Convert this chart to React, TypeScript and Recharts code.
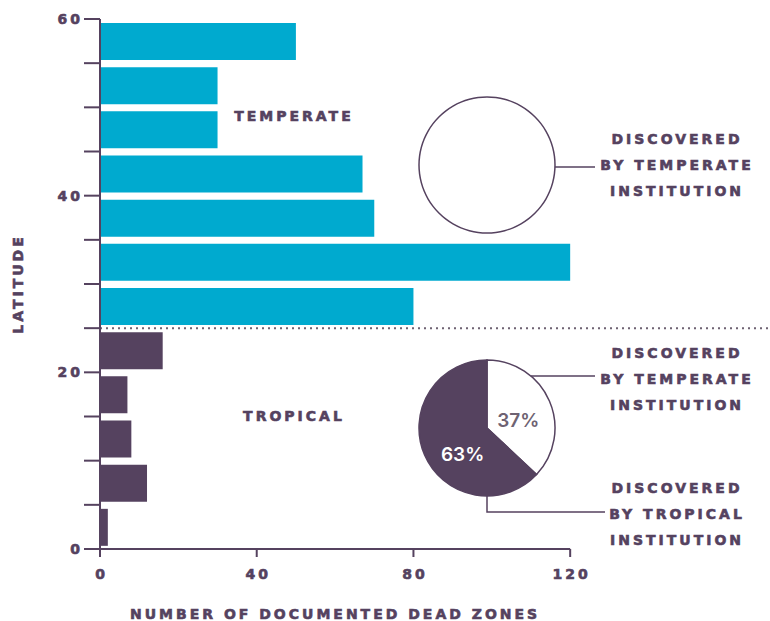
import {
  BarChart,
  Bar,
  XAxis,
  YAxis,
  Cell,
  ReferenceLine,
  ReferenceDot,
  PieChart,
  Pie,
} from 'recharts'

// latitude bins (mid-points of 5° bands) and number of dead zones per band
const latitudeBins = [2.5, 7.5, 12.5, 17.5, 22.5, 27.5, 32.5, 37.5, 42.5, 47.5, 52.5, 57.5]
const deadZones = [2, 12, 8, 7, 16, 80, 120, 70, 67, 30, 30, 50]
const latitudeTicks = [0, 5, 10, 15, 20, 25, 30, 35, 40, 45, 50, 55, 60]
const latitudeLabels = [0, 20, 40, 60]
const countTicks = [0, 40, 80, 120]
const tropicBoundary = 25

const temperateShare = [{ name: 'Discovered by temperate institution', value: 100 }]
const tropicalShare = [
  { name: 'Discovered by temperate institution', value: 37 },
  { name: 'Discovered by tropical institution', value: 63 },
]
const calloutLines = ['DISCOVERED', 'BY TEMPERATE', 'INSTITUTION']
const calloutLinesTropical = ['DISCOVERED', 'BY TROPICAL', 'INSTITUTION']

const CYAN = '#00AACF'
const PLUM = '#55425F'
const GRAY = '#6E6272'
const HEAVY = '"DejaVu Sans", sans-serif'

const rows = latitudeBins.map((lat, i) => ({ lat, count: deadZones[i] }))

const capsStyle = {
  fontFamily: HEAVY,
  fontWeight: 700,
  fontSize: 14,
  letterSpacing: 3,
  fill: PLUM,
  stroke: PLUM,
  strokeWidth: 0.6,
}

const pctStyle = { fontFamily: 'Inter, sans-serif', fontWeight: 600, fontSize: 19 }

function YTick({ x, y, payload }: any) {
  if (!latitudeLabels.includes(payload.value)) return null
  return (
    <text x={x + 3} y={y} textAnchor="end" dominantBaseline="central" style={capsStyle}>
      {payload.value}
    </text>
  )
}

function XTick({ x, y, payload }: any) {
  return (
    <text x={x + 1.5} y={y} textAnchor="middle" dominantBaseline="hanging" style={capsStyle}>
      {payload.value}
    </text>
  )
}

function TextMark(text: string, dy = 0) {
  return ({ cx, cy }: any) => (
    <text x={cx} y={cy + dy} textAnchor="middle" dominantBaseline="central" style={capsStyle}>
      {text}
    </text>
  )
}

function Callout({ x, y, lines }: { x: number; y: number; lines: string[] }) {
  return (
    <text textAnchor="middle" dominantBaseline="central" style={capsStyle}>
      {lines.map((l, i) => (
        <tspan key={i} x={x} y={y + i * 26}>
          {l}
        </tspan>
      ))}
    </text>
  )
}

const PIE_R = 68
const PIE_CX = 87

function pctLabel(color: string, ratio: number, dx: number, dy: number) {
  return ({ cx, cy, midAngle, outerRadius, percent }: any) => {
    const rad = (Math.PI / 180) * midAngle
    const r = outerRadius * ratio
    return (
      <text
        x={cx + r * Math.cos(rad) + dx}
        y={cy - r * Math.sin(rad) + dy}
        textAnchor="middle"
        dominantBaseline="central"
        fill={color}
        style={pctStyle}
      >
        {Math.round(percent * 100)}%
      </text>
    )
  }
}

export default function App() {
  return (
    <div style={{ position: 'absolute', left: 0, top: 0, width: 770, height: 621, background: '#fff' }}>
      <BarChart
        width={770}
        height={621}
        layout="vertical"
        data={rows}
        margin={{ top: 19, right: 0, bottom: 0, left: 0 }}
      >
        <XAxis
          type="number"
          dataKey="count"
          domain={[0, 171]}
          ticks={countTicks}
          axisLine={false}
          tickLine={{ stroke: PLUM, strokeWidth: 2 }}
          tickSize={8}
          tickMargin={12}
          height={72}
          tick={<XTick />}
        />
        <YAxis
          type="number"
          dataKey="lat"
          domain={[0, 60]}
          reversed
          ticks={latitudeTicks}
          interval={0}
          width={100}
          axisLine={{ stroke: PLUM, strokeWidth: 2 }}
          tickLine={{ stroke: PLUM, strokeWidth: 2 }}
          tickSize={16}
          tickMargin={4}
          tick={<YTick />}
          label={{
            value: 'LATITUDE',
            angle: -90,
            position: 'insideLeft',
            offset: 18,
            style: { ...capsStyle, textAnchor: 'middle' },
          }}
        />
        <ReferenceLine
          segment={[
            { x: 0, y: 0 },
            { x: 120, y: 0 },
          ]}
          stroke={PLUM}
          strokeWidth={2}
        />
        <ReferenceLine y={tropicBoundary} stroke={GRAY} strokeWidth={2} strokeDasharray="2 4" />
        <Bar dataKey="count" barSize={37} isAnimationActive={false}>
          {rows.map((r, i) => (
            <Cell key={i} fill={r.lat > tropicBoundary ? CYAN : PLUM} />
          ))}
        </Bar>
        <ReferenceDot x={49.5} y={49} r={0} shape={TextMark('TEMPERATE')} />
        <ReferenceDot x={49.5} y={15.1} r={0} shape={TextMark('TROPICAL')} />
        <ReferenceDot x={60} y={0} r={0} shape={TextMark('NUMBER OF DOCUMENTED DEAD ZONES', 65)} />
      </BarChart>

      {/* temperate latitudes: all found by temperate institutions */}
      <div style={{ position: 'absolute', left: 400, top: 90 }}>
        <PieChart width={370} height={150} margin={{ top: 0, right: 0, bottom: 0, left: 0 }}>
          <Pie
            data={temperateShare}
            dataKey="value"
            cx={PIE_CX}
            cy={75}
            outerRadius={PIE_R}
            startAngle={90}
            endAngle={-270}
            fill="#fff"
            stroke="none"
            isAnimationActive={false}
            label={false}
            labelLine={false}
          />
          {/* outline ring */}
          <Pie
            data={temperateShare}
            dataKey="value"
            cx={PIE_CX}
            cy={75}
            innerRadius={PIE_R - 0.75}
            outerRadius={PIE_R + 0.75}
            startAngle={90}
            endAngle={-270}
            fill={PLUM}
            stroke="none"
            isAnimationActive={false}
            label={false}
            labelLine={false}
          />
          <text x={PIE_CX} y={77} textAnchor="middle" dominantBaseline="central" fill={GRAY} style={pctStyle}>
            100%
          </text>
          <line x1={PIE_CX + PIE_R} y1={77} x2={195} y2={77} stroke={PLUM} strokeWidth={1.5} />
          <Callout x={277} y={49} lines={calloutLines} />
        </PieChart>
      </div>

      {/* tropical latitudes: split between institutions */}
      <div style={{ position: 'absolute', left: 400, top: 330 }}>
        <PieChart width={370} height={230} margin={{ top: 0, right: 0, bottom: 0, left: 0 }}>
          <Pie
            data={tropicalShare}
            dataKey="value"
            cx={PIE_CX}
            cy={98}
            outerRadius={PIE_R}
            startAngle={90}
            endAngle={-270}
            stroke={PLUM}
            strokeWidth={1.5}
            isAnimationActive={false}
            labelLine={false}
            label={({ index, ...rest }: any) =>
              index === 0 ? pctLabel(GRAY, 0.5, 0, 6)(rest) : pctLabel('#fff', 0.52, 8, 12)(rest)
            }
          >
            <Cell fill="#fff" />
            <Cell fill={PLUM} />
          </Pie>
          <line x1={131} y1={46} x2={195} y2={46} stroke={PLUM} strokeWidth={1.5} />
          <polyline
            points={`${PIE_CX},${98 + PIE_R} ${PIE_CX},182 205,182`}
            fill="none"
            stroke={PLUM}
            strokeWidth={1.5}
          />
          <Callout x={277} y={23} lines={calloutLines} />
          <Callout x={277} y={158} lines={calloutLinesTropical} />
        </PieChart>
      </div>
    </div>
  )
}
